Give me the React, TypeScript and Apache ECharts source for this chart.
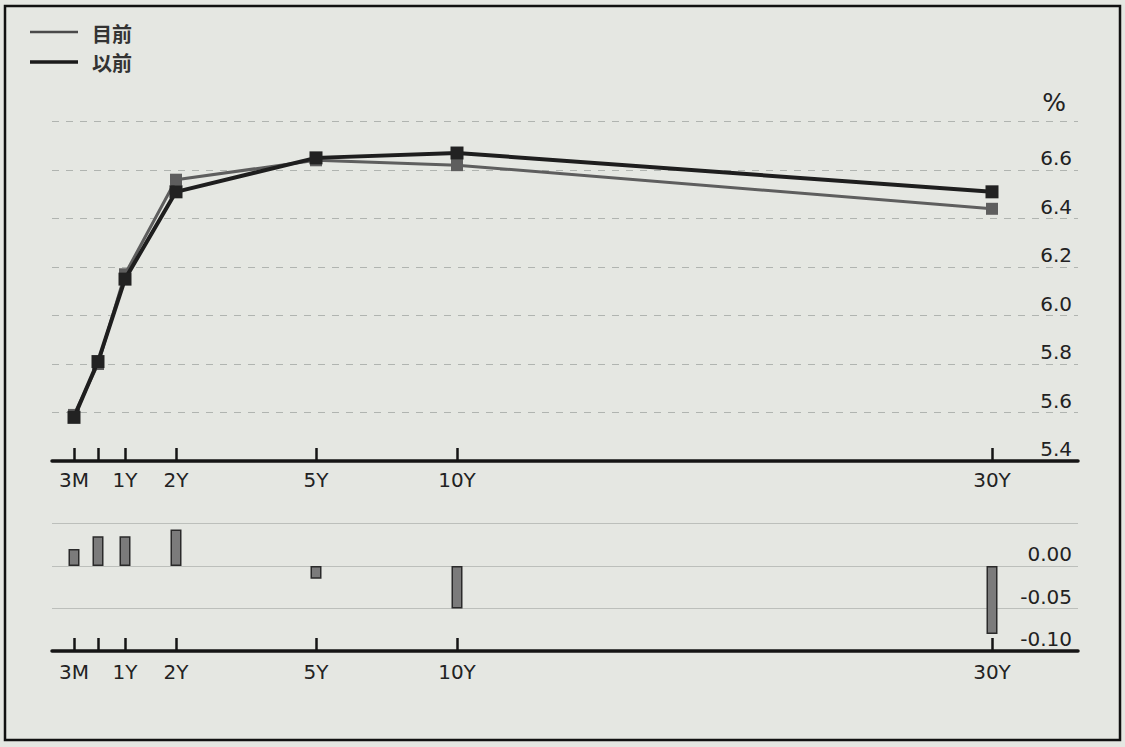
import React, { useEffect, useRef } from "react";
import * as echarts from "echarts";

// Tenors and their place on the (non-linear) maturity axis
const tenorLabels = ["3M", "6M", "1Y", "2Y", "5Y", "10Y", "30Y"];
const tenorAxisPos = [22, 46, 73, 124, 264, 405, 940];
const tenorLabelShown = [true, false, true, true, true, true, true];

// Yield curves (%)
const currentYield = [5.59, 5.80, 6.17, 6.56, 6.64, 6.62, 6.44]; // 目前
const previousYield = [5.58, 5.81, 6.15, 6.51, 6.65, 6.67, 6.51]; // 以前

// Change panel
const yieldChange = [0.02, 0.035, 0.035, 0.043, -0.015, -0.05, -0.08];

const FONT = "DejaVu Sans";
const TEXT = "#222222";

export default function App() {
  const ref = useRef<HTMLDivElement>(null);
  useEffect(() => {
    const chart = echarts.init(ref.current!, null, { renderer: "svg" });
    const labelPositions = tenorAxisPos.filter((_, i) => tenorLabelShown[i]);
    const xAxisBase = (gridIndex: number, margin: number) => ({
      type: "value",
      gridIndex,
      min: 0,
      max: 1026,
      axisLine: { show: true, onZero: false, lineStyle: { color: "#151515", width: 3.5 } },
      axisTick: {
        show: true,
        inside: true,
        length: 13,
        customValues: tenorAxisPos,
        lineStyle: { color: "#151515", width: 2.5 },
      },
      axisLabel: {
        customValues: labelPositions,
        margin,
        fontFamily: FONT,
        fontSize: 20,
        color: TEXT,
        formatter: (v: number) => tenorLabels[tenorAxisPos.indexOf(v)] ?? "",
      },
      splitLine: { show: false },
    });
    chart.setOption({
      animation: false,
      backgroundColor: "#e5e7e2",
      textStyle: { fontFamily: FONT },
      grid: [
        { left: 52, right: 47, top: 121.5, height: 339.5 },
        { left: 52, right: 47, top: 523.5, height: 127.5 },
      ],
      xAxis: [xAxisBase(0, 9), xAxisBase(1, 11)],
      yAxis: [
        {
          type: "value",
          gridIndex: 0,
          position: "right",
          min: 5.4,
          max: 6.8,
          interval: 0.2,
          axisLine: { show: false },
          axisTick: { show: false },
          axisLabel: {
            inside: true,
            margin: 6,
            fontFamily: FONT,
            fontSize: 20,
            color: TEXT,
            verticalAlign: "bottom",
            padding: [0, 0, 2, 0],
            formatter: (v: number) => (v > 6.79 ? "" : v.toFixed(1)),
          },
          splitLine: { show: true, lineStyle: { color: "#b0b4b0", width: 1, type: [7, 7] } },
        },
        {
          type: "value",
          gridIndex: 1,
          position: "right",
          min: -0.1,
          max: 0.05,
          interval: 0.05,
          axisLine: { show: false },
          axisTick: { show: false },
          axisLabel: {
            inside: true,
            margin: 6,
            fontFamily: FONT,
            fontSize: 20,
            color: TEXT,
            verticalAlign: "bottom",
            padding: [0, 0, 2, 0],
            formatter: (v: number) => (v > 0.001 ? "" : (Math.abs(v) < 1e-9 ? 0 : v).toFixed(2)),
          },
          splitLine: { show: true, lineStyle: { color: "#bcbfbb", width: 1 } },
        },
      ],
      series: [
        {
          name: "目前",
          type: "line",
          xAxisIndex: 0,
          yAxisIndex: 0,
          data: tenorAxisPos.map((p, i) => [p, currentYield[i]]),
          symbol: "rect",
          symbolSize: 12,
          lineStyle: { color: "#5e5e5e", width: 3 },
          itemStyle: { color: "#5e5e5e" },
          z: 3,
        },
        {
          name: "以前",
          type: "line",
          xAxisIndex: 0,
          yAxisIndex: 0,
          data: tenorAxisPos.map((p, i) => [p, previousYield[i]]),
          symbol: "rect",
          symbolSize: 13,
          lineStyle: { color: "#1e1e1e", width: 4 },
          itemStyle: { color: "#222222" },
          z: 4,
        },
        {
          name: "變動",
          type: "bar",
          xAxisIndex: 1,
          yAxisIndex: 1,
          barWidth: 11,
          data: tenorAxisPos.map((p, i) => [p, yieldChange[i]]),
          itemStyle: { color: "#7b7b7b", borderColor: "#2a2a2a", borderWidth: 1.5 },
        },
      ],
      graphic: [
        {
          type: "rect",
          shape: { x: 5, y: 6, width: 1115, height: 734 },
          style: { fill: "none", stroke: "#111", lineWidth: 2.5 },
          silent: true,
        },
        {
          type: "line",
          shape: { x1: 30, y1: 32, x2: 78, y2: 32 },
          style: { stroke: "#4a4a4a", lineWidth: 2.5 },
        },
        {
          type: "text",
          x: 92,
          y: 33,
          style: {
            text: "目前",
            fontFamily: "Noto Sans CJK TC",
            fontWeight: "bold",
            fontSize: 20,
            fill: "#333",
            verticalAlign: "middle",
          },
        },
        {
          type: "line",
          shape: { x1: 30, y1: 62, x2: 78, y2: 62 },
          style: { stroke: "#1a1a1a", lineWidth: 3.5 },
        },
        {
          type: "text",
          x: 92,
          y: 62,
          style: {
            text: "以前",
            fontFamily: "Noto Sans CJK TC",
            fontWeight: "bold",
            fontSize: 20,
            fill: "#333",
            verticalAlign: "middle",
          },
        },
        {
          type: "text",
          x: 1054,
          y: 102,
          style: {
            text: "%",
            fontFamily: FONT,
            fontSize: 25,
            fill: TEXT,
            align: "center",
            verticalAlign: "middle",
          },
        },
      ],
    });
    return () => chart.dispose();
  }, []);
  return (
    <div
      ref={ref}
      style={{ position: "fixed", left: 0, top: 0, width: 1125, height: 747 }}
    />
  );
}
